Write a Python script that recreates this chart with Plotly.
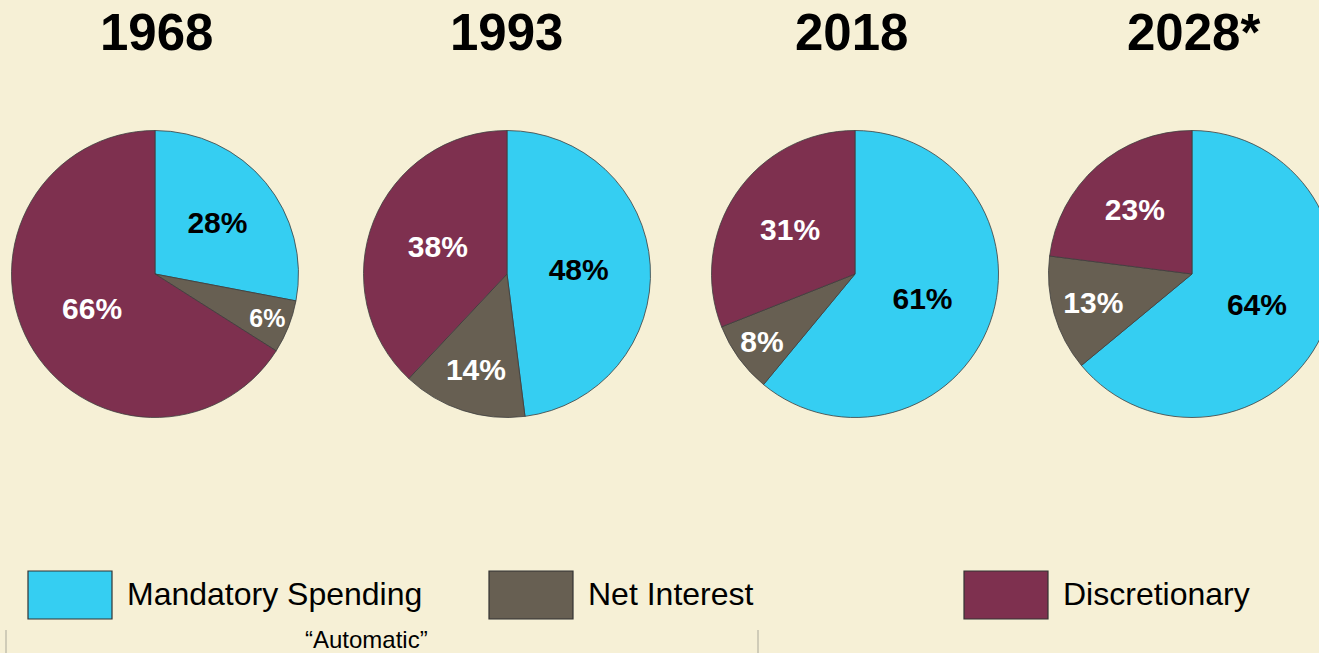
import plotly.graph_objects as go

# Share of federal outlays by category
years = ["1968", "1993", "2018", "2028*"]
categories = ["Mandatory Spending", "Net Interest", "Discretionary"]
mandatory = [28, 48, 61, 64]
net_interest = [6, 14, 8, 13]
discretionary = [66, 38, 31, 23]
bracket_label = "\u201cAutomatic\u201d"

colors = ["#35CEF2", "#675F52", "#7E304F"]
label_colors = ["#000000", "#FFFFFF", "#FFFFFF"]
bg = "#F6F0D6"
FONT = "Liberation Sans, Arial, Helvetica, sans-serif"

W, H = 1350, 653
pie_cx = [155, 507, 855, 1192]
title_cx = [156, 507, 852, 1193]
pie_cy = 274
pie_r = 143.5

fig = go.Figure()

for i, yr in enumerate(years):
    vals = [mandatory[i], net_interest[i], discretionary[i]]
    cx = pie_cx[i]
    fig.add_trace(go.Pie(
        labels=categories,
        values=vals,
        sort=False,
        direction="clockwise",
        rotation=0,
        marker=dict(colors=colors, line=dict(color="#3d3d3d", width=0.8)),
        texttemplate="%{value}%",
        textposition="inside",
        insidetextorientation="horizontal",
        insidetextfont=dict(family=FONT, size=30, color=label_colors, weight="bold"),
        hoverinfo="label+percent",
        showlegend=False,
        domain=dict(
            x=[(cx - pie_r) / W, (cx + pie_r) / W],
            y=[1 - (pie_cy + pie_r) / H, 1 - (pie_cy - pie_r) / H],
        ),
    ))
    fig.add_annotation(
        x=title_cx[i] / W, y=1 - 32 / H, xref="paper", yref="paper",
        text=yr, showarrow=False, xanchor="center", yanchor="middle",
        font=dict(family=FONT, size=51, color="#000000", weight="bold"),
    )

# Legend swatches and names
legend_box_x = [28, 489, 964]
box_w, box_top, box_bot = 84, 571, 619
for k, name in enumerate(categories):
    x0 = legend_box_x[k]
    fig.add_shape(
        type="rect", xref="paper", yref="paper",
        x0=x0 / W, x1=(x0 + box_w) / W, y0=1 - box_bot / H, y1=1 - box_top / H,
        fillcolor=colors[k], line=dict(color="#333333", width=1.2),
    )
    fig.add_annotation(
        x=(x0 + box_w + 13) / W, y=1 - 594 / H, xref="paper", yref="paper",
        text=name, showarrow=False, xanchor="left", yanchor="middle",
        font=dict(family=FONT, size=32, color="#000000"),
    )

# Bracket grouping the two automatic categories
for bx in [6, 758]:
    fig.add_shape(
        type="line", xref="paper", yref="paper",
        x0=bx / W, x1=bx / W, y0=0, y1=1 - 630 / H,
        line=dict(color="#B8B4A4", width=1.2),
    )
fig.add_annotation(
    x=366 / W, y=1 - 639 / H, xref="paper", yref="paper",
    text=bracket_label, showarrow=False, xanchor="center", yanchor="middle",
    font=dict(family=FONT, size=24, color="#000000"),
)

fig.update_layout(
    width=W, height=H,
    margin=dict(l=0, r=0, t=0, b=0),
    paper_bgcolor=bg, plot_bgcolor=bg,
)

fig.write_html(
    "out.html",
    config={"displayModeBar": False},
    post_script="document.documentElement.style.overflow='hidden';document.body.style.overflow='hidden';",
)
